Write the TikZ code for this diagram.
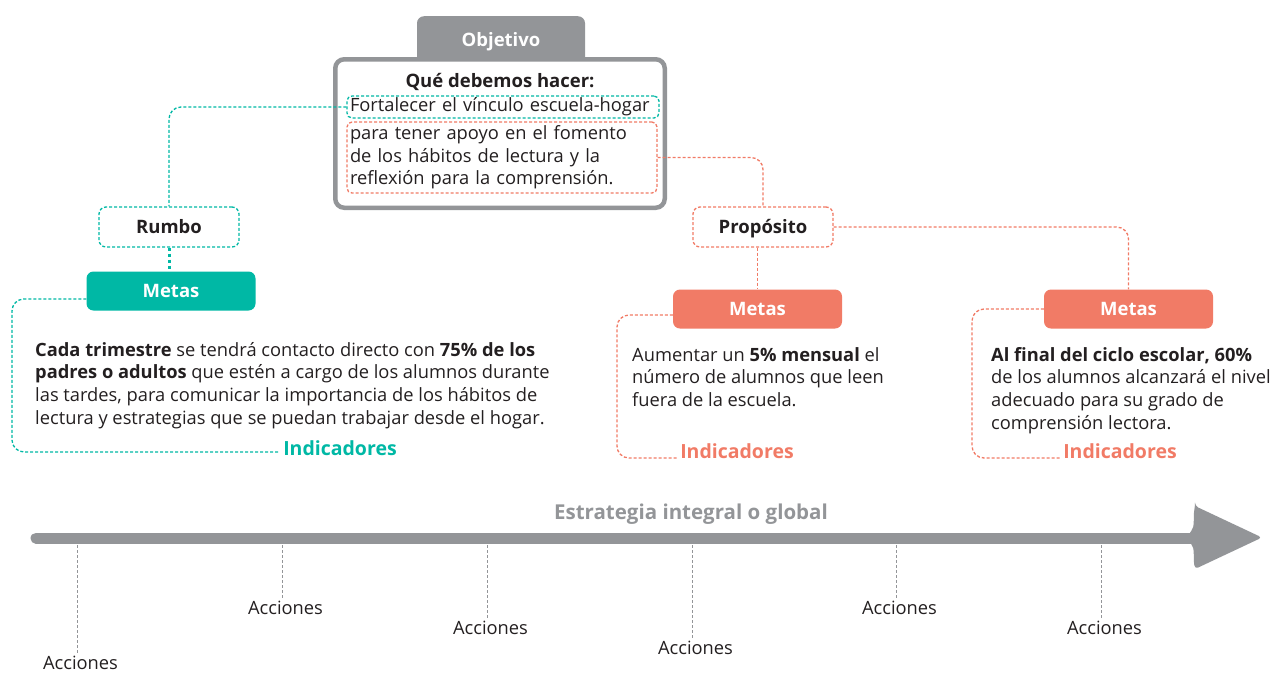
\documentclass[tikz,border=0pt]{standalone}
\usepackage{fontspec}
\setmainfont{Open Sans}
\usetikzlibrary{positioning,calc}
\definecolor{verde}{RGB}{0,184,165}
\definecolor{coral}{RGB}{241,123,102}
\definecolor{gris}{RGB}{147,149,152}
\definecolor{tinta}{RGB}{35,31,32}
\newcommand{\fuente}[1]{\fontsize{#1}{22.6}\selectfont}
\tikzset{every node/.style={text=tinta, font=\fuente{18.3}},
         etiqueta/.style={rounded corners=7pt, minimum width=169pt,
           minimum height=39pt, text=white, font=\fuente{18.5}\bfseries},
         cajita/.style={draw, dash pattern=on 3pt off 2pt, line width=1.3pt,
           rounded corners=7pt, minimum width=140pt, minimum height=40pt,
           font=\fuente{18.5}\bfseries, text height=13pt, text depth=0pt},
         recuadro/.style={draw, dash pattern=on 3pt off 2pt, line width=1.3pt,
           rounded corners=5pt, align=left, inner xsep=3pt},
         guia/.style={dash pattern=on 3pt off 2pt, line width=1.3pt,
           rounded corners=12pt},
         meta/.style={anchor=north west, align=left, inner sep=0pt},
         indic/.style={font=\fuente{19.5}\bfseries},
         marca/.style={draw=gris, dash pattern=on 3pt off 2pt, line width=0.6pt}}
\begin{document}
\begin{tikzpicture}[x=1pt,y=-1pt]
\useasboundingbox (0,0) rectangle (1278,673);
% objetivo
\node[etiqueta, fill=gris, minimum width=168pt, minimum height=50pt,
  anchor=north, text height=13pt, text depth=2pt] (objetivo) at (501,16) {Objetivo};
\node[draw=gris, line width=4.5pt, fill=white, rounded corners=9pt,
  minimum width=329.5pt, minimum height=148.5pt] (marco) at (500,133.5) {};
\node[font=\fuente{18.5}\bfseries] (hacer) at (500,82) {Qué debemos hacer:};
\node[recuadro, draw=verde, text width=306pt, minimum height=22pt,
  inner ysep=1pt] (vinculo) at (503,107) {Fortalecer el vínculo escuela-hogar};
\node[recuadro, draw=coral, text width=304pt, minimum height=71pt]
  (fomento) at (502,157.5) {para tener apoyo en el fomento\\de los hábitos de lectura y la\\reflexión para la comprensión.};
% rumbo y proposito
\node[cajita, draw=verde] (rumbo) at (169,227) {Rumbo};
\node[etiqueta, fill=verde] (metasA) at (171,291) {Metas};
\node[cajita, draw=coral] (proposito) at (763,227) {Propósito};
\node[etiqueta, fill=coral] (metasB) at (757.5,309) {Metas};
\node[etiqueta, fill=coral] (metasC) at (1128.5,309) {Metas};
% metas
\node[meta] (textoA) at (35,342) {\textbf{Cada trimestre} se tendrá contacto directo con \textbf{75\% de los}\\
  \textbf{padres o adultos} que estén a cargo de los alumnos durante\\
  las tardes, para comunicar la importancia de los hábitos de\\
  lectura y estrategias que se puedan trabajar desde el hogar.};
\node[meta] (textoB) at (632,347) {Aumentar un \textbf{5\% mensual} el\\
  número de alumnos que leen\\fuera de la escuela.};
\node[meta] (textoC) at (991,347) {\textbf{Al final del ciclo escolar, 60\%}\\
  de los alumnos alcanzará el nivel\\adecuado para su grado de\\comprensión lectora.};
\node[indic, text=verde] (indA) at (340,448) {Indicadores};
\node[indic, text=coral] (indB) at (737,451) {Indicadores};
\node[indic, text=coral] (indC) at (1120,451) {Indicadores};
% conectores
\draw[guia, verde] (vinculo.west) -| (rumbo.north);
\draw[verde, line width=3pt, dash pattern=on 3pt off 3pt]
  (rumbo.south) -- (rumbo.south |- metasA.north);
\draw[guia, verde] ([yshift=-8pt]metasA.west) -| (12,452) -- ([yshift=-4pt]indA.west);
\draw[guia, coral] (fomento.east) -| (proposito.north);
\draw[guia, coral] (proposito.east) -| (metasC.north);
\draw[guia, coral] (proposito.south -| metasB.north) -- (metasB.north);
\draw[guia, coral] ([yshift=-6pt]metasB.west) -| (617,458) -- ([yshift=-7pt]indB.west);
\draw[guia, coral] (metasC.west) -| (972,458) -- ([yshift=-7pt]indC.west);
% estrategia
\node[font=\fuente{20.5}\bfseries, text=gris] (estrategia) at (691,514) {Estrategia integral o global};
\coordinate (inicio) at (36,538);
\coordinate (fin) at (1200,538);
\draw[gris, line width=11pt, line cap=round] (inicio) -- (fin);
\fill[gris, rounded corners=3.5pt] (1195,506) -- (1262,537.5) -- (1195,569)
  .. controls (1193,558) and (1195,548) .. (1189,542) -- (1189,533)
  .. controls (1195,527) and (1193,517) .. (1195,506) -- cycle;
\foreach \i/\x/\y in {1/77/663, 2/282/608, 3/487/628, 4/692/648, 5/896/608, 6/1101/628}{
  \node (acc\i) at (\x+3.5,\y) {Acciones};
  \coordinate (e\i) at (\x,545);
  \draw[marca] (e\i) -- (e\i |- acc\i.north);
}
\end{tikzpicture}
\end{document}
